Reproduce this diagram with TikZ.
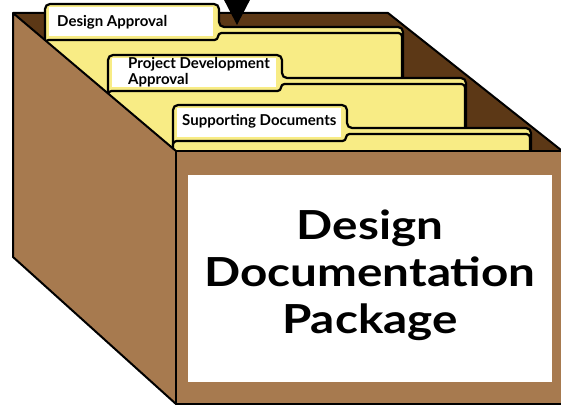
\documentclass[tikz,border=0pt]{standalone}
\usepackage{fontspec}
\newfontfamily\lato{Lato}
\newfontfamily\latowide[FakeStretch=1.19]{Lato}
\definecolor{folderyellow}{HTML}{F8EC85}
\definecolor{boxbrown}{HTML}{A77A4F}
\definecolor{innerbrown}{HTML}{5C3816}

% one file folder: #1 left x, #2 tab top y, #3 node name, #4/#5 base point of the last text line, #6 tab text
\newcommand\filefolder[6]{%
  \path[backsheet] (#1,170) -- (#1,#2) -- ({#1+174},#2) -- ({#1+174},{#2+23})
        -- ({#1+358},{#2+23}) -- ({#1+358},170);
  \fill[white] ({#1+4},{#2+3}) rectangle ({#1+168},{#2+32});
  \node[tabtext] (#3) at (#4,#5) {#6};
  \path[frontsheet] (#1,170) -- (#1,{#2+36}) -- ({#1+173},{#2+36}) -- ({#1+173},{#2+29})
        -- ({#1+357},{#2+29}) -- ({#1+357},170);
}

\begin{document}
\begin{tikzpicture}[x=1pt,y=-1pt,line join=round,
  backsheet/.style={fill=folderyellow,draw=black,line width=2.2pt,rounded corners=5pt},
  frontsheet/.style={fill=folderyellow,draw=black,line width=2.2pt,rounded corners=3.5pt},
  boxline/.style={draw=black,line width=2pt},
  tabtext/.style={font=\lato\bfseries\fontsize{15}{16}\selectfont,inner sep=0pt,
                  anchor=base west,align=left},
  title/.style={font=\latowide\bfseries\fontsize{40}{47}\selectfont,inner sep=0pt,
                anchor=base,align=center}]
\useasboundingbox (0,0) rectangle (561,406);
\clip (0,0) rectangle (561,406);

% inside of the box (back wall)
\fill[innerbrown] (13,13) -- (388,13) -- (563,151.6) -- (176,151) -- cycle;
\draw[boxline] (13,13) -- (388,13) -- (563,151.6);

% pointer above the first folder
\fill (222,-4) -- (252,-4) -- (237,25) -- cycle;

% the folders, back to front
\filefolder{45}{4}{fa}{57}{27}{Design Approval}
\filefolder{108}{55}{fb}{128}{85}{Project Development\\Approval}
\filefolder{173}{105}{fc}{182}{126}{Supporting Documents}

% side and front of the box
\draw[boxline,fill=boxbrown] (13,13) -- (13,257) -- (176,404) -- (176,151) -- cycle;
\draw[boxline,fill=boxbrown] (176,151) rectangle (566,404);
\fill[white] (188,175) rectangle (552,382);
\node[title] (ttl) at (370,333) {Design\\Documentation\\Package};
\end{tikzpicture}
\end{document}
